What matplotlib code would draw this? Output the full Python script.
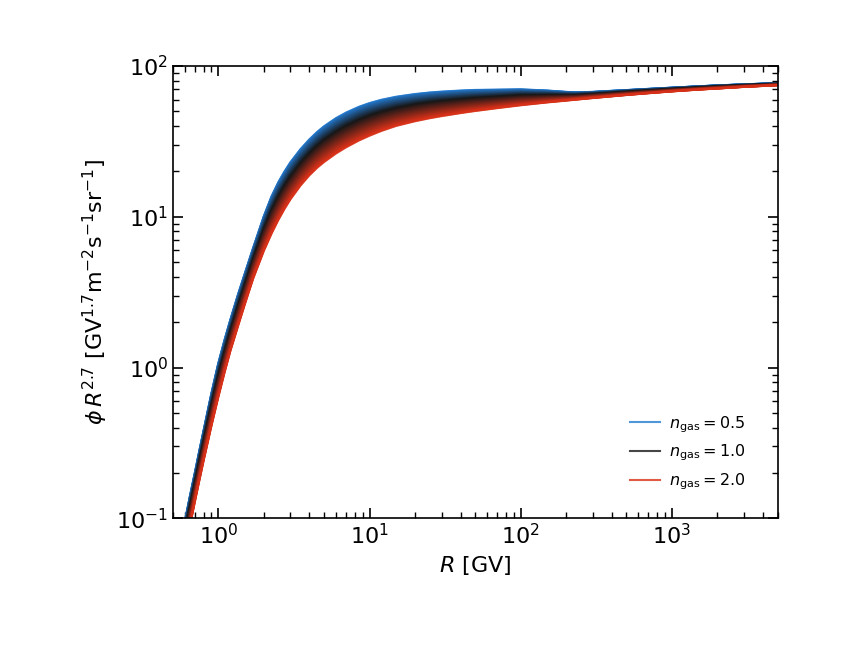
import numpy as np
import matplotlib
matplotlib.use("Agg")
import matplotlib.pyplot as plt
from matplotlib.colors import LinearSegmentedColormap

# rigidity grid [GV]
R = [0.5, 0.55, 0.6, 0.65, 0.7, 0.75, 0.8, 0.9, 1.0, 1.1, 1.2, 1.35, 1.5, 1.7,
     2.0, 2.25, 2.5, 2.75, 3.0, 3.5, 4.0, 4.5, 5.0, 6.0, 7.0, 8.5, 10, 12, 15,
     20, 25, 30, 40, 50, 70, 100, 150, 200, 230, 300, 350, 500, 700, 1000,
     1500, 2000, 3000, 5000]

# log10(phi * R^2.7) for the three labelled gas densities
logflux_n05 = [-1.456, -1.228, -1.022, -0.848, -0.695, -0.548, -0.414, -0.170,
               0.030, 0.185, 0.317, 0.486, 0.628, 0.795, 1.005, 1.137, 1.232,
               1.304, 1.363, 1.450, 1.514, 1.563, 1.601, 1.655, 1.692, 1.730,
               1.755, 1.777, 1.797, 1.815, 1.825, 1.831, 1.838, 1.842, 1.844,
               1.846, 1.838, 1.829, 1.826, 1.829, 1.833, 1.841, 1.849, 1.857,
               1.866, 1.872, 1.879, 1.887]
logflux_n10 = [-1.531, -1.308, -1.100, -0.927, -0.773, -0.627, -0.495, -0.257,
               -0.060, 0.098, 0.233, 0.402, 0.546, 0.713, 0.913, 1.038, 1.132,
               1.204, 1.264, 1.353, 1.418, 1.468, 1.506, 1.561, 1.600, 1.640,
               1.668, 1.694, 1.719, 1.743, 1.757, 1.766, 1.778, 1.786, 1.795,
               1.804, 1.806, 1.806, 1.806, 1.813, 1.817, 1.828, 1.837, 1.847,
               1.857, 1.864, 1.872, 1.881]
logflux_n20 = [-1.644, -1.429, -1.218, -1.046, -0.889, -0.746, -0.616, -0.388,
               -0.196, -0.032, 0.108, 0.275, 0.422, 0.590, 0.774, 0.889, 0.981,
               1.055, 1.116, 1.208, 1.275, 1.325, 1.363, 1.420, 1.461, 1.506,
               1.538, 1.570, 1.603, 1.634, 1.654, 1.668, 1.688, 1.702, 1.721,
               1.740, 1.759, 1.771, 1.777, 1.788, 1.794, 1.808, 1.820, 1.832,
               1.844, 1.851, 1.862, 1.873]

n_labels = [0.5, 1.0, 2.0]
colors = ['#247cd3', '#181818', '#d93118']

cmap = LinearSegmentedColormap.from_list('gas', colors)

fig = plt.figure(figsize=(8.64, 6.48), dpi=100)
ax = fig.add_axes([0.2, 0.2, 0.7, 0.698])

lo = np.array(logflux_n05)
mid = np.array(logflux_n10)
hi = np.array(logflux_n20)

# band of curves between the labelled densities (n = 0.5 ... 2.0)
nsteps = 40
for t in np.linspace(0, 1, nsteps):
    ax.plot(R, 10 ** (lo + t * (mid - lo)), color=cmap(t / 2), lw=1.5, alpha=0.8)
for t in np.linspace(0, 1, nsteps):
    ax.plot(R, 10 ** (mid + t * (hi - mid)), color=cmap(0.5 + t / 2), lw=1.5, alpha=0.8)

# legend handles
for n, c in zip(n_labels, colors):
    ax.plot([], [], color=c, lw=1.5, alpha=0.8, label=r'$n_{\rm gas} = %.1f$' % n)

ax.set_xscale('log')
ax.set_yscale('log')
ax.set_xlim(0.5, 5000)
ax.set_ylim(0.1, 100)
ax.set_xlabel(r'$R$ [GV]', fontsize=16)
ax.set_ylabel(r'$\phi\,R^{2.7}$ [GV$^{1.7}$m$^{-2}$s$^{-1}$sr$^{-1}$]', fontsize=16)
ax.tick_params(which='both', direction='in', top=True, right=True, labelsize=16)
ax.tick_params(which='major', length=7, width=1.2)
ax.tick_params(which='minor', length=4, width=1)
for s in ax.spines.values():
    s.set_linewidth(1.2)

ax.legend(loc='lower right', bbox_to_anchor=(0.971, 0.027), frameon=False,
          fontsize=11.5, labelspacing=0.5, handlelength=1.85, handletextpad=0.6)

fig.savefig('out.png', dpi=100)
